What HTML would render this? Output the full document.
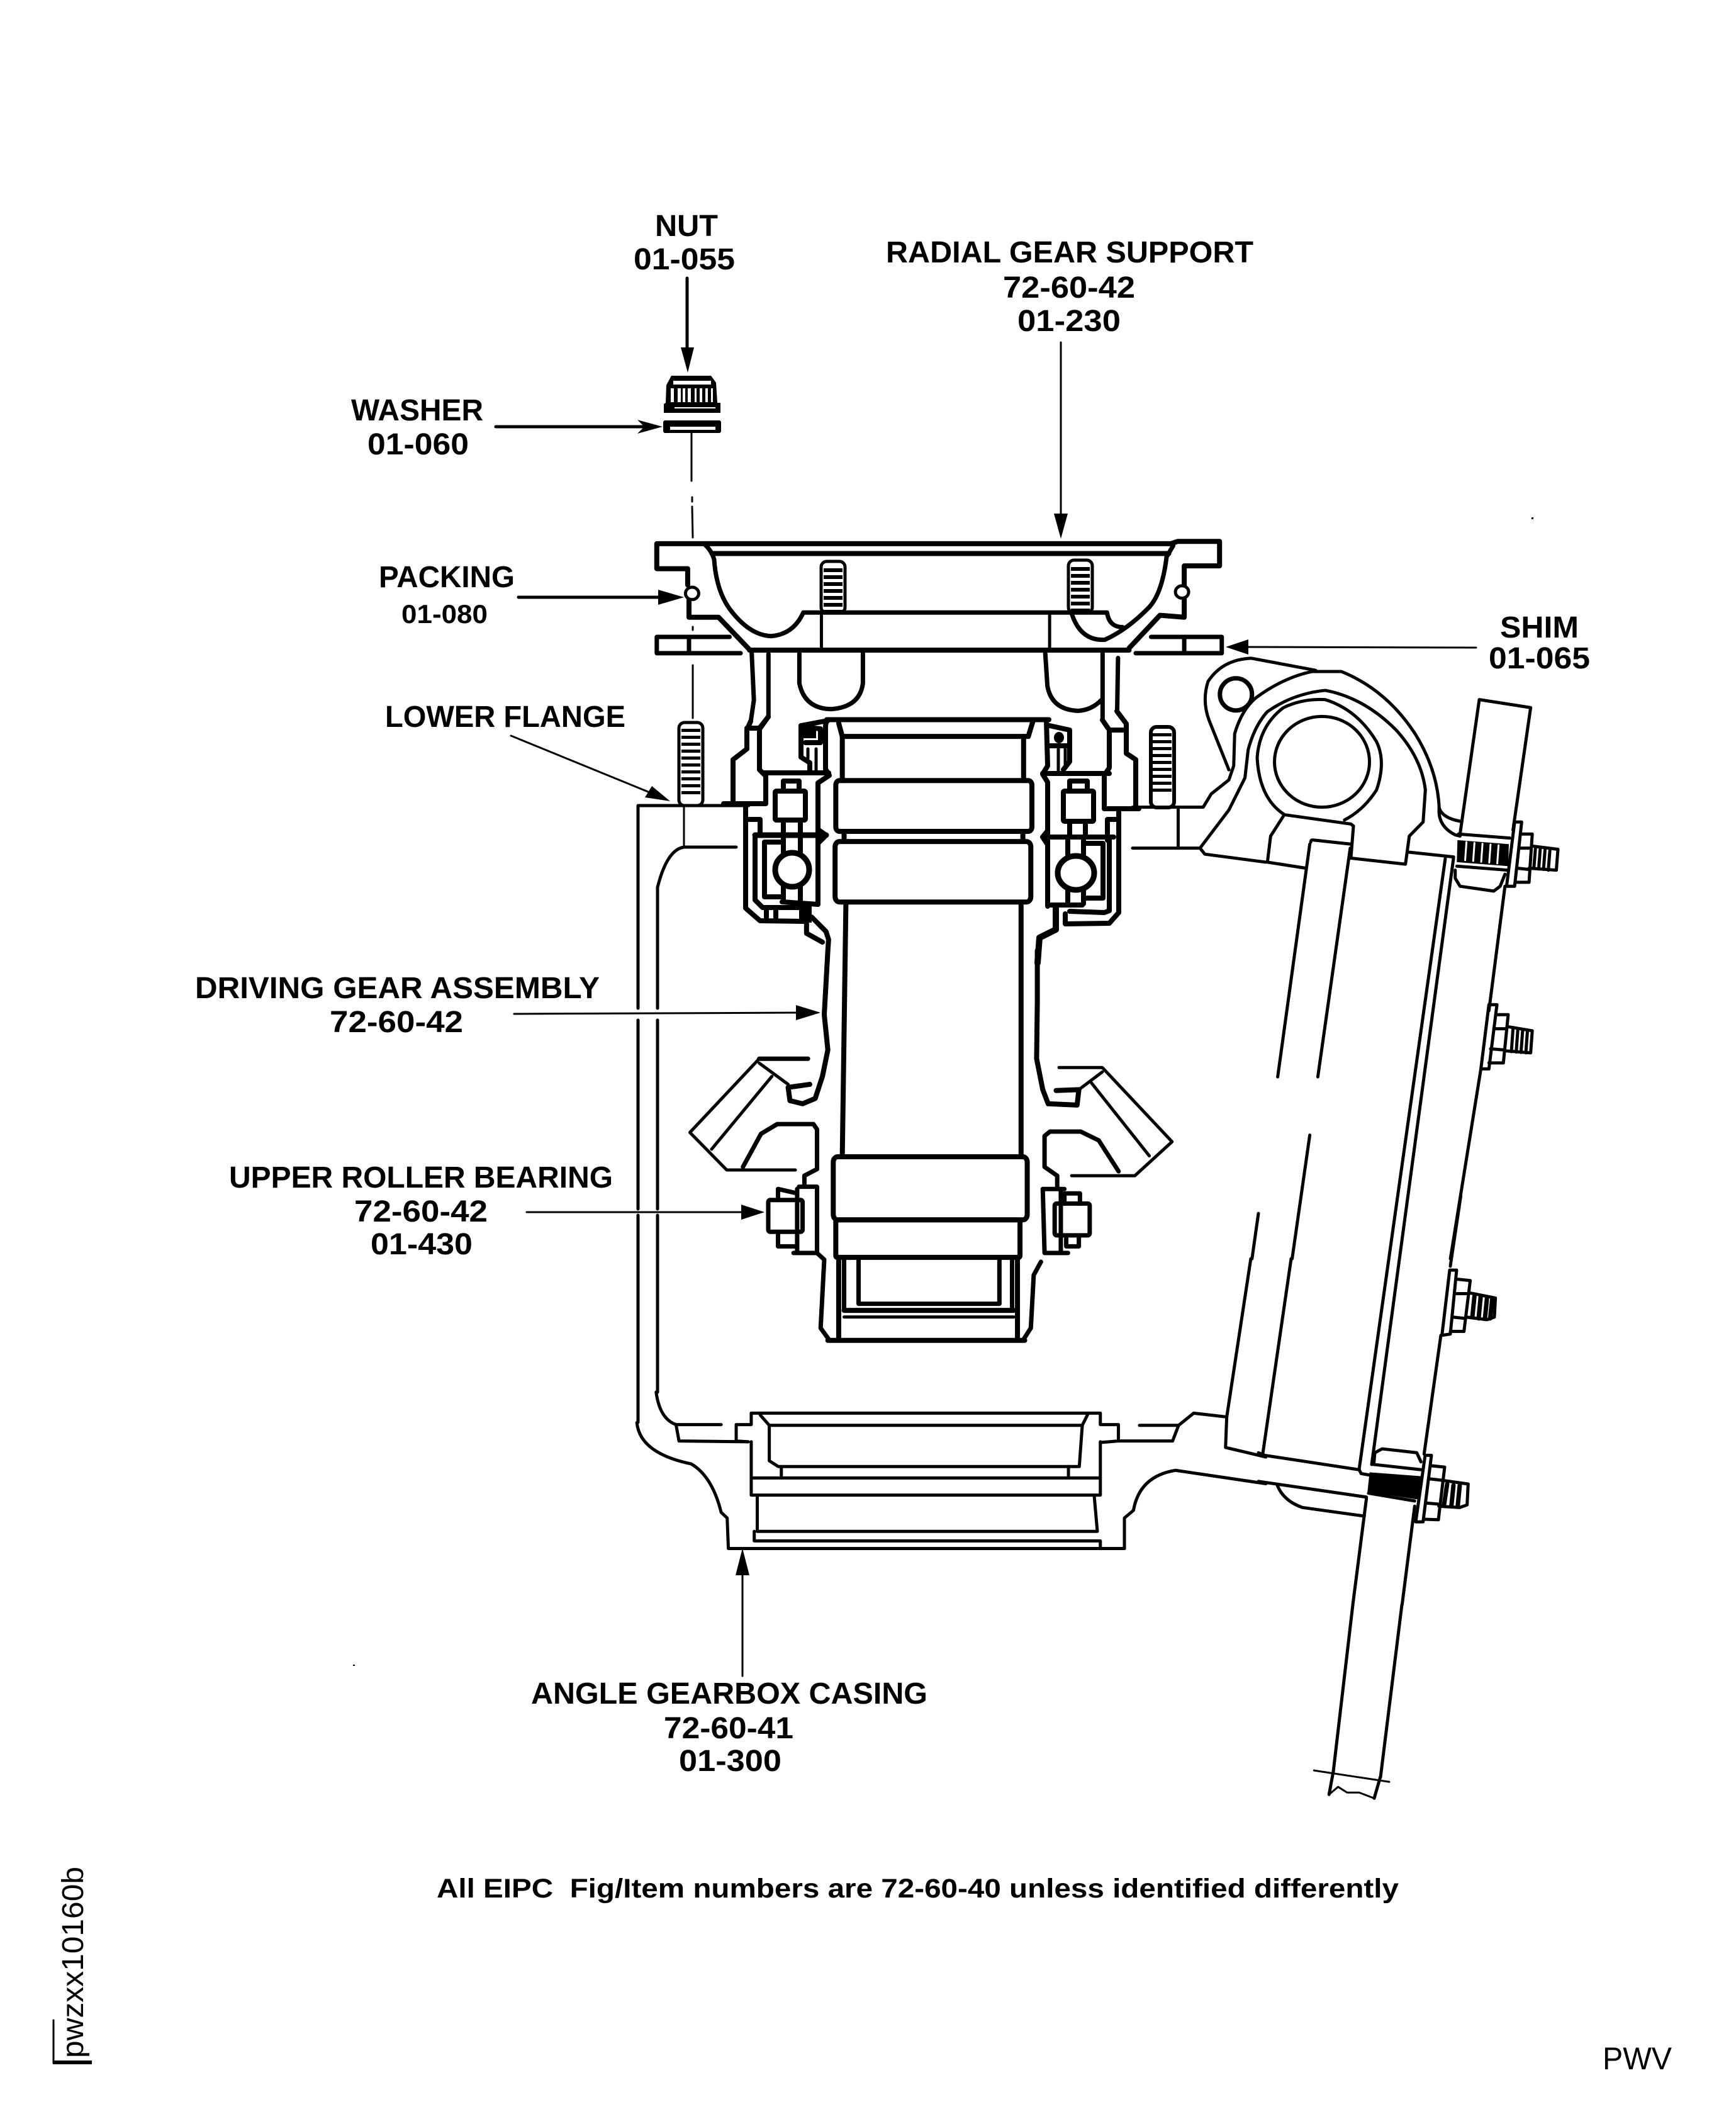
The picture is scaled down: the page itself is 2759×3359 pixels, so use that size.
<!DOCTYPE html>
<html><head><meta charset="utf-8"><style>
html,body{margin:0;padding:0;background:#fff}
svg{display:block}
path,line,ellipse,rect,polyline{fill:none;stroke:#000;stroke-width:7;stroke-linejoin:round;stroke-linecap:round;vector-effect:non-scaling-stroke}
.m{stroke-width:5}.t{stroke-width:3}.f{fill:#000;stroke:none}
.w{fill:#fff}.wf{fill:#fff;stroke:none}
.h{stroke-width:8}
text{font-family:"Liberation Sans",sans-serif;font-weight:bold;font-size:48px;fill:#000}
.r{font-weight:normal}
</style></head><body>
<svg xmlns="http://www.w3.org/2000/svg" width="2759" height="3359" viewBox="0 0 2759 3359">
<rect x="0" y="0" width="2759" height="3359" class="wf"/>

<!-- labels -->
<text x="1041" y="375" textLength="100" lengthAdjust="spacingAndGlyphs">NUT</text>
<text x="1007" y="428" textLength="161" lengthAdjust="spacingAndGlyphs">01-055</text>
<text x="1408" y="417" textLength="584" lengthAdjust="spacingAndGlyphs">RADIAL GEAR SUPPORT</text>
<text x="1594" y="473" textLength="210" lengthAdjust="spacingAndGlyphs">72-60-42</text>
<text x="1617" y="526" textLength="164" lengthAdjust="spacingAndGlyphs">01-230</text>
<text x="558" y="668" textLength="210" lengthAdjust="spacingAndGlyphs">WASHER</text>
<text x="584" y="722" textLength="161" lengthAdjust="spacingAndGlyphs">01-060</text>
<text x="602" y="933" textLength="216" lengthAdjust="spacingAndGlyphs">PACKING</text>
<text x="638" y="990" textLength="137" lengthAdjust="spacingAndGlyphs" style="font-size:42px">01-080</text>
<text x="2384" y="1013" textLength="125" lengthAdjust="spacingAndGlyphs">SHIM</text>
<text x="2366" y="1062" textLength="161" lengthAdjust="spacingAndGlyphs">01-065</text>
<text x="612" y="1155" textLength="382" lengthAdjust="spacingAndGlyphs">LOWER FLANGE</text>
<text x="310" y="1586" textLength="643" lengthAdjust="spacingAndGlyphs">DRIVING GEAR ASSEMBLY</text>
<text x="524" y="1640" textLength="212" lengthAdjust="spacingAndGlyphs">72-60-42</text>
<text x="364" y="1887" textLength="610" lengthAdjust="spacingAndGlyphs">UPPER ROLLER BEARING</text>
<text x="563" y="1941" textLength="212" lengthAdjust="spacingAndGlyphs">72-60-42</text>
<text x="589" y="1993" textLength="162" lengthAdjust="spacingAndGlyphs">01-430</text>
<text x="844" y="2707" textLength="630" lengthAdjust="spacingAndGlyphs">ANGLE GEARBOX CASING</text>
<text x="1055" y="2762" textLength="206" lengthAdjust="spacingAndGlyphs">72-60-41</text>
<text x="1079" y="2814" textLength="163" lengthAdjust="spacingAndGlyphs">01-300</text>
<text x="694" y="3015" textLength="1529" lengthAdjust="spacingAndGlyphs" style="font-size:43px" xml:space="preserve">All EIPC  Fig/Item numbers are 72-60-40 unless identified differently</text>
<text x="2547" y="3288" textLength="110" lengthAdjust="spacingAndGlyphs" class="r" style="font-size:50px">PWV</text>
<text transform="translate(132,3270) rotate(-90)" textLength="304" lengthAdjust="spacingAndGlyphs" class="r" style="font-size:48px">pwzxx10160b</text>
<path class="t" d="M85,3210 L85,3278"/>
<rect class="f" x="84" y="3274" width="62" height="6"/>

<!-- arrows -->
<path class="m" d="M1092,442 L1092,560"/><polygon points="1093,592 1082,552 1103,552"/>
<path class="m" d="M788,678 L1025,678"/><polygon points="1053,678 1013,667 1024,678 1013,689"/>
<path class="t" d="M1686,544 L1686,825"/><polygon points="1686,856 1675,816 1697,816"/>
<path class="m" d="M824,949 L1055,949"/><polygon points="1087,949 1046,937 1046,961"/>
<path class="t" d="M2346,1029 L1975,1028"/><polygon points="1948,1028 1984,1016 1984,1040"/>
<path class="t" d="M812,1169 L1042,1263"/><polygon points="1065,1273 1036,1249 1025,1267"/>
<path class="t" d="M817,1611 L1275,1609"/><polygon points="1304,1609 1265,1597 1265,1621"/>
<path class="t" d="M837,1926 L1190,1926"/><polygon points="1215,1926 1178,1914 1178,1938"/>
<path class="t" d="M1180,2663 L1180,2495"/><polygon points="1180,2460 1169,2503 1191,2503"/>

<!-- nut and washer -->
<polygon points="1067,597 1130,597 1138,608 1140,640 1145,640 1145,656 1055,656 1055,642 1058,640 1059,612"/>
<rect class="wf" x="1070" y="605" width="60" height="6"/>
<rect class="wf" x="1066" y="617" width="5" height="22"/>
<rect class="wf" x="1077" y="617" width="5" height="22"/>
<rect class="wf" x="1085" y="617" width="4" height="22"/>
<rect class="wf" x="1093" y="617" width="5" height="22"/>
<rect class="wf" x="1104" y="617" width="3" height="22"/>
<rect class="wf" x="1112" y="617" width="4" height="22"/>
<rect class="wf" x="1121" y="617" width="4" height="22"/>
<rect class="wf" x="1130" y="617" width="3" height="22"/>
<rect class="wf" x="1072" y="647" width="65" height="2"/>
<rect x="1054" y="668" width="92" height="20" rx="3" class="f"/>
<rect class="wf" x="1065" y="678" width="72" height="5"/>

<!-- centre line -->
<path class="t" d="M1099,688 L1099,764 M1100,790 L1100,797 M1100,805 L1101,854 M1101,996 L1101,1001 M1101,1057 L1101,1141"/>

<!-- top studs -->
<rect x="1305" y="892" width="38" height="82" rx="9" class="m"/>
<path d="M1324,903 L1324,972" style="stroke-width:30;stroke-dasharray:6 5;stroke-linecap:butt"/>
<rect x="1698" y="890" width="38" height="84" rx="9" class="m"/>
<path d="M1717,901 L1717,972" style="stroke-width:30;stroke-dasharray:6 5;stroke-linecap:butt"/>
<!-- lower studs -->
<rect x="1079" y="1148" width="38" height="132" rx="9" class="m"/>
<path d="M1098,1158 L1098,1262" style="stroke-width:30;stroke-dasharray:5 6;stroke-linecap:butt"/>
<rect x="1829" y="1155" width="37" height="128" rx="9" class="h" style="stroke-width:6"/>
<path d="M1847,1165 L1847,1262" style="stroke-width:30;stroke-dasharray:5 6;stroke-linecap:butt"/>

<!-- top flange and upper housing (zoom-1 space) -->
<g transform="translate(900,800) scale(.7015,.4464)">
<path class="h" d="M320,143 L205,143 L205,232 L275,232 L275,290 M278,345 L278,405 L345,405 L415,520"/>
<path class="h" d="M320,143 L1370,143 L1385,135 L1480,135 L1480,222 L1400,222 L1400,405 L1345,398 L1275,515"/>
<path class="h" d="M415,522 L1275,522"/>
<path class="h" d="M330,178 L1365,178"/>
<path d="M315,148 Q330,170 335,200 Q340,310 370,375 Q415,470 465,472 Q515,465 537,388 L1225,388 Q1230,440 1260,440"/>
<path d="M1375,150 L1360,190 Q1350,320 1320,370 Q1270,450 1220,485 Q1165,490 1145,392"/>
<path class="m" d="M578,388 L578,520 M1095,388 L1095,520"/>
<ellipse cx="285" cy="320" rx="15" ry="22" class="w m"/>
<ellipse cx="1395" cy="315" rx="15" ry="22" class="w m"/>
<path d="M370,475 L205,475 L205,533 L395,533 M278,475 L278,533"/>
<path d="M1325,475 L1485,475 L1485,533 L1290,533 M1400,475 L1400,533"/>
<path d="M420,530 L425,700 L418,775"/>
<path d="M458,535 L458,760 L440,800"/>
<path d="M1215,530 L1215,770"/>
<path d="M1250,550 L1248,740"/>
<path d="M528,530 L528,640 Q540,730 600,732 Q665,725 672,640 L672,530"/>
<path d="M1085,530 L1090,650 Q1100,735 1160,738 Q1190,735 1212,700"/>
</g>

<!-- left housing and bearing (true px) -->
<path class="h" d="M1193,1146 L1187,1160 L1187,1190 L1165,1207 L1165,1277"/>
<path class="h" d="M1221,1139 L1207,1157 L1207,1223 L1217,1233 L1217,1277 L1150,1277"/>
<path class="h" d="M1187,1157 L1207,1157"/>
<path class="h" d="M1212,1228 L1317,1228"/>
<path class="h" d="M1273,1153 L1310,1146"/>
<path class="h" d="M1273,1153 L1273,1203 L1287,1212 L1287,1228"/>
<path class="h" d="M1273,1155 L1304,1158 L1304,1180 L1280,1180"/>
<rect class="f" x="1277" y="1158" width="20" height="15"/>
<path class="m" d="M1284,1190 L1284,1205 M1297,1190 L1297,1226"/>
<path class="h" d="M1317,1144 Q1312,1146 1312,1155 L1312,1222 L1318,1232 L1306,1240 L1300,1244 L1300,1437"/>
<path class="h" d="M1300,1318 L1313,1327 L1300,1340"/>
<path class="h" d="M1245,1254 L1245,1241 L1270,1241 L1270,1254"/>
<rect x="1232" y="1257" width="48" height="46" rx="2" class="h"/>
<path class="h" d="M1245,1303 L1245,1322 M1272,1303 L1272,1322"/>
<path class="h" style="stroke-width:9" d="M1200,1327 L1313,1327"/>
<path class="h" d="M1245,1327 L1245,1358 M1272,1327 L1272,1358 M1245,1405 L1245,1432 M1272,1405 L1272,1432"/>
<path class="h" d="M1245,1338 L1215,1338 L1215,1425 L1245,1425"/>
<path class="h" d="M1243,1433 L1300,1437"/>
<rect class="wf" x="1250" y="1345" width="16" height="5"/>
<rect class="wf" x="1250" y="1415" width="16" height="9"/>
<ellipse cx="1259" cy="1382" rx="27" ry="27" class="w" style="stroke-width:9"/>
<path class="h" d="M1200,1327 L1200,1430 L1212,1442 L1270,1442"/>
<path class="h" d="M1185,1280 L1185,1443 L1208,1463 L1280,1464"/>
<path class="h" d="M1190,1302 L1208,1302 L1208,1322"/>
<path class="h" d="M1218,1445 L1218,1458 M1233,1445 L1233,1458"/>
<rect class="f" x="1270" y="1437" width="20" height="29"/>

<!-- right housing and bearing (true px) -->
<path class="h" d="M1752,1144 L1763,1160 L1763,1220 L1755,1232 L1755,1285 L1810,1285"/>
<path class="h" d="M1805,1285 L1805,1207 L1790,1197 L1790,1150 L1775,1130"/>
<path class="h" d="M1763,1160 L1790,1160"/>
<path class="h" d="M1657,1229 L1763,1229"/>
<path class="h" d="M1668,1153 L1700,1160 L1700,1210 L1690,1223"/>
<path class="h" d="M1668,1185 L1700,1185"/>
<ellipse cx="1683" cy="1172" rx="8" ry="9" class="f"/>
<path class="m" d="M1682,1190 L1682,1228 M1693,1190 L1693,1215"/>
<path class="h" d="M1663,1145 L1665,1217 L1657,1230 L1665,1243 L1665,1440"/>
<path class="h" d="M1665,1320 L1657,1330 L1665,1342"/>
<path class="h" d="M1700,1254 L1700,1241 L1728,1241 L1728,1254"/>
<rect x="1690" y="1257" width="48" height="48" rx="2" class="h"/>
<path class="h" d="M1700,1305 L1700,1327 M1725,1305 L1725,1327"/>
<path class="h" d="M1657,1330 L1770,1330"/>
<path class="h" d="M1697,1334 L1697,1358 M1722,1334 L1722,1358 M1697,1410 L1697,1436 M1722,1410 L1722,1436"/>
<path class="h" d="M1722,1340 L1753,1340 L1753,1427 L1722,1427"/>
<ellipse cx="1710" cy="1387" rx="29" ry="27" class="w" style="stroke-width:9"/>
<path class="h" d="M1665,1438 L1720,1438"/>
<path class="h" d="M1760,1335 L1760,1302 L1775,1302"/>
<path class="h" d="M1763,1330 L1763,1447 L1755,1450 L1700,1448"/>
<path class="h" d="M1778,1287 L1778,1450 L1763,1467 L1693,1468 L1693,1452"/>
<path class="h" style="stroke-width:10" d="M1678,1442 L1678,1477 L1652,1490 L1649,1530"/>

<!-- casing left walls -->
<path class="m" d="M1190,1280 L1014,1280 L1014,1602 M1014,1621 L1014,1921 M1014,1931 L1014,2260"/>
<path class="t" d="M1087,1280 L1087,1346"/>
<path class="m" d="M1170,1346 L1087,1346 Q1060,1350 1045,1410 L1045,1602 M1045,1621 L1045,1921 M1045,1931 L1045,2212"/>

<!-- central (zoom-2 space) -->
<g transform="translate(1000,1100) scale(.574,.7015)">
<path class="h" d="M547,62 L1162,62"/>
<path class="h" d="M1118,65 L1105,100 L590,100 L580,70"/>
<path class="h" d="M590,100 L590,200 M1092,100 L1092,200"/>
<rect x="572" y="200" width="543" height="115" rx="10" class="h"/>
<path class="h" d="M595,315 L595,335 M1090,315 L1090,335"/>
<rect x="570" y="338" width="542" height="137" rx="12" class="h"/>
<path class="h" d="M600,478 L590,1050 M1085,478 L1085,1050"/>
<rect x="565" y="1052" width="537" height="143" rx="12" class="h"/>
<rect x="572" y="1195" width="510" height="85" rx="4" class="h"/>
<path class="h" d="M580,1280 L580,1465 M1075,1280 L1075,1465"/>
<path d="M595,1285 L595,1400 M1060,1285 L1060,1400"/>
<path d="M635,1285 L635,1385 L1025,1385 L1025,1285"/>
<path class="h" d="M595,1400 L1065,1400"/>
<path class="m" d="M595,1415 L1065,1415"/>
<path class="h" d="M550,1468 L1095,1468"/>
<path d="M520,1270 L540,1285 L530,1440 L552,1465"/>
<path d="M1140,1290 L1120,1320 L1112,1440 L1090,1468"/>
<!-- web left -->
<path class="h" d="M505,509 L545,542 L552,560 L550,585 L540,730 L550,810 L535,870 L515,920 L480,932 L445,925 L440,895 L500,888"/>
<path class="h" d="M491,523 L491,546 L535,566"/>
<path d="M360,830 L495,830"/>
<path class="m" d="M360,830 L168,997 L270,1082 L460,1082"/>
<path class="m" d="M360,840 L440,888"/>
<path class="m" d="M395,870 L228,1035"/>
<path d="M315,1075 L365,1000 L410,978 L510,978 L520,990 L520,1080 L485,1095 L485,1118"/>
<!-- web right -->
<path class="h" d="M1130,585 L1130,700 L1128,830 L1145,900 L1160,932 L1240,935 L1245,900 L1182,902"/>
<path class="m" d="M1190,850 L1310,850 L1503,1018 L1400,1095 L1225,1095"/>
<path class="m" d="M1310,860 L1245,900"/>
<path class="m" d="M1280,885 L1440,1050"/>
<path d="M1355,1085 L1300,1015 L1250,995 L1165,995 L1150,1005 L1150,1075 L1185,1095 L1185,1120"/>
<!-- lower bearing left -->
<rect x="385" y="1150" width="95" height="72" rx="5" class="w"/>
<path d="M412,1150 L412,1125 L465,1135 M412,1222 L412,1255 L465,1255"/>
<path d="M470,1120 L520,1120 L520,1270 L455,1270 M465,1125 L465,1270"/>
<!-- lower bearing right -->
<rect x="1178" y="1158" width="97" height="72" rx="5" class="w"/>
<path d="M1205,1158 L1205,1135 L1248,1135 L1248,1158 M1210,1232 L1210,1255 L1245,1255 L1245,1232"/>
<path d="M1145,1125 L1205,1125 M1145,1125 L1150,1270 L1215,1270 M1195,1128 L1195,1270"/>
</g>

<!-- right casing (zoom-3 space) -->
<g transform="translate(1800,1000) scale(.5102,.6378)">
<path class="m" d="M0,443 L220,443 L245,410 L300,375 L315,340 L318,260 Q340,200 385,170 Q470,120 560,105 L650,105 Q790,150 880,260 Q950,350 955,445 Q965,470 1020,478"/>
<path class="m" d="M570,102 L370,72 Q280,75 235,130 Q215,180 240,230 L300,350"/>
<ellipse cx="322" cy="162" rx="50" ry="40"/>
<path class="m" d="M210,545 L300,450 L350,370 L360,300 Q380,240 420,205 Q500,160 600,152 Q720,170 820,250 Q900,320 912,400 L905,480 L862,515 L850,585 L680,570"/>
<path class="m" d="M470,460 Q395,420 388,320 Q395,240 470,195 Q530,172 600,175 Q700,200 760,280 Q790,330 760,400 Q720,450 660,475"/>
<path class="m" d="M475,462 L680,485 L688,490 L680,570"/>
<ellipse cx="590" cy="330" rx="148" ry="113" class="m"/>
<path class="m" d="M470,465 L430,515 L420,580 L540,595"/>
<path class="m" d="M0,545 L210,545 L225,560 L415,580"/>
<path class="m" d="M142,445 L142,545"/>
<path class="m" d="M860,555 L1000,567"/>
<path class="m" d="M955,445 Q950,490 1005,512 L1020,515"/>
<path class="m" d="M555,530 Q555,523 565,525 L680,535"/>
<path class="m" d="M552,535 L452,1115 M678,545 L577,1115"/>
<path class="m" d="M552,1260 L497,1568 M392,1455 L372,1568"/>
<!-- panel -->
<path class="m" d="M1020,510 L1080,175 L1240,195 L1185,500"/>
<path class="m" d="M1160,640 L1110,950 M1085,1095 L990,1568"/>
<!-- bolts 1 and 2 -->
<path class="m" d="M1015,510 L1175,520 M1010,590 L1170,600"/>
<polygon points="1012,525 1172,535 1170,590 1010,580" style="fill:#000"/>
<path class="t" d="M1040,530 L1036,575 M1065,532 L1061,577 M1090,534 L1086,579 M1115,536 L1111,581 M1140,538 L1136,583" style="stroke:#fff;stroke-width:3"/>
<path class="m" d="M1005,600 L1005,620 L1020,640 L1125,652 L1145,640 L1160,610"/>
<path class="m" d="M1190,480 L1212,480 L1190,640 L1165,640 Z"/>
<path class="m" d="M1212,510 L1245,510 L1235,630 L1195,630 M1205,545 L1240,545 M1198,595 L1232,598"/>
<path class="m" d="M1245,540 L1325,548 L1320,600 L1235,595"/>
<path class="m" d="M1255,545 L1250,595 M1270,545 L1265,597 M1285,547 L1280,598 M1300,549 L1295,600"/>
<path class="m" d="M1110,935 L1135,935 L1110,1095 L1085,1095 Z"/>
<path class="m" d="M1135,960 L1170,960 L1155,1080 L1110,1080 M1125,995 L1165,995 M1115,1045 L1160,1048"/>
<path class="m" d="M1170,990 L1245,1000 L1240,1055 L1160,1050"/>
<path class="m" d="M1185,995 L1180,1052 M1200,997 L1195,1053 M1215,999 L1210,1054 M1230,1000 L1225,1055"/>
</g>
<!-- long plate lines -->
<path class="m" d="M2297,1364 L2160,2335 M2310,1364 L2180,2327"/>

<!-- lower bolts (zoom-8 space) -->
<g transform="translate(2000,1900) scale(.3333,.4145)">
<path class="m" d="M965,0 L915,270"/>
<path class="m" d="M912,285 L945,285 L915,530 L875,535 Z"/>
<path class="m" d="M950,320 L1010,325 L980,520 L915,520 M945,375 L1000,375 M925,465 L985,470"/>
<path class="m" d="M1005,372 L1130,392 L1125,465 L1090,475 L990,465"/>
<path d="M1030,385 L1020,465 M1060,385 L1050,470 M1090,390 L1080,472 M1115,395 L1105,470" />
<path class="m" d="M870,535 L790,990"/>
<path class="m" d="M795,995 L825,995 L785,1250 L750,1250 Z"/>
<path class="m" d="M825,1035 L888,1040 L858,1242 L790,1240 M815,1085 L870,1090 M800,1178 L860,1182"/>
<path class="m" d="M870,1090 L1000,1105 L995,1185 L960,1195 L860,1190"/>
<path d="M900,1105 L885,1185 M930,1110 L920,1190 M960,1110 L950,1192" />
<polygon points="530,1060 778,1075 765,1165 520,1135"/>
<path class="m" d="M550,1030 L775,1050"/>
<path class="m" d="M525,1140 L745,1170"/>
<path class="m" d="M550,1030 L555,985 L590,970 L755,985 L775,1020"/>
<path class="m" d="M0,985 L30,995 L480,1050 L490,1065 L525,1070"/>
<path class="m" d="M0,1095 L515,1155"/>
<path class="m" d="M90,1110 Q120,1170 210,1195 L505,1228"/>
<path class="m" d="M745,1190 L685,1568 M515,1160 L450,1568"/>
</g>

<!-- bottom casing (zoom-4 space) -->
<g transform="translate(950,2000) scale(.9566,.6059)">
<path class="m" d="M65,430 Q70,510 155,538 Q190,570 205,665 L215,680 L217,760 L875,760"/>
<path class="m" d="M97,350 Q103,420 130,435 L205,435 M130,435 L135,478 L250,480"/>
<path class="m" d="M250,480 L230,478 L230,435 L255,435 L255,405 L835,405 L835,435 L865,435 L865,478 L835,482"/>
<path class="m" d="M900,437 L965,437 L955,478 L865,478"/>
<path class="m" d="M965,437 L990,405 L1045,415"/>
<path class="m" d="M270,410 L285,437 L805,437 L815,405 M285,437 L285,530 L300,545 L800,545 L805,437"/>
<path class="m" d="M255,480 L255,620 L835,620 L835,480 M255,575 L835,575"/>
<path class="m" d="M305,545 L305,572 M782,545 L782,572"/>
<path class="m" d="M265,625 L265,715 L830,715 L825,625"/>
<path class="m" d="M260,715 L260,740 L835,740 L835,760"/>
<path class="m" d="M875,760 L875,680 L890,660 Q900,570 960,555 L1110,590"/>
<path class="m" d="M1085,0 L1045,415 L1043,495 L1110,520"/>
<path class="m" d="M1152,0 L1105,510"/>
<path class="t" d="M1190,1342 L1265,1360 L1315,1372"/>
<path class="t" d="M1215,1405 L1230,1385 L1245,1400 L1265,1400 L1290,1415"/>
<path class="m" d="M1300,1360 L1290,1415 M1222,1345 L1215,1405"/>
</g>
<path class="m" d="M2150,2550 L2119,2815 M2228,2550 L2194,2824"/>

<!-- specks -->
<rect class="f" x="2434" y="822" width="3" height="3"/>
<rect class="f" x="561" y="2645" width="3" height="2"/>
</svg>
</body></html>
